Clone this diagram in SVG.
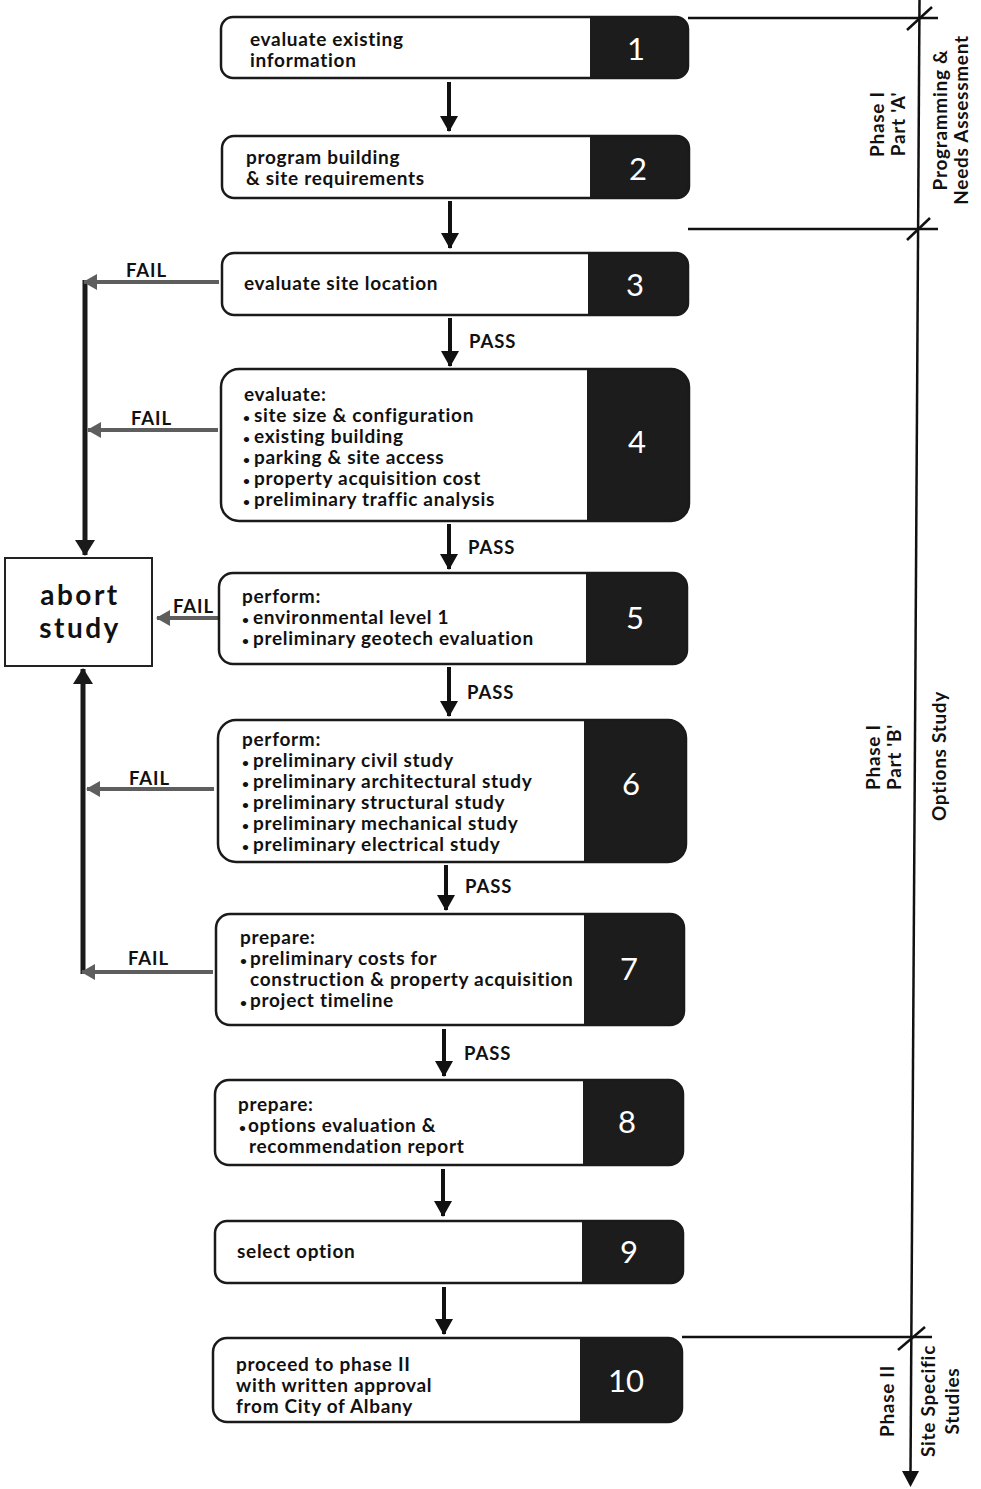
<svg xmlns="http://www.w3.org/2000/svg" width="981" height="1489" viewBox="0 0 981 1489">
<style>
  .dark { fill: #1c1c1c; }
  .face { fill: #ffffff; }
  .frame { fill: none; stroke: #1a1a1a; stroke-width: 2.5; }
  .t { font-family: Lato, "Liberation Sans", sans-serif; font-weight: 700; font-size: 19px; letter-spacing: 0.7px; fill: #111; }
  .b { font-size: 12px; letter-spacing: 0; }
  .num { font-family: Lato, "Liberation Sans", sans-serif; font-weight: 400; font-size: 31px; fill: #ffffff; text-anchor: middle; }
  .lbl { font-family: Lato, "Liberation Sans", sans-serif; font-weight: 700; font-size: 18.5px; letter-spacing: 0.9px; fill: #111; }
  .side { font-family: Lato, "Liberation Sans", sans-serif; font-weight: 700; font-size: 19px; letter-spacing: 0.7px; fill: #111; text-anchor: middle; }
  .down { stroke: #111; stroke-width: 4; fill: none; marker-end: url(#hd); }
  .fail { stroke: #5e5e5e; stroke-width: 4; fill: none; marker-end: url(#hg); }
  .trunk { stroke: #1a1a1a; stroke-width: 5; fill: none; }
  .rule { stroke: #111; stroke-width: 2.5; fill: none; }
  .abort { fill: #fff; stroke: #222; stroke-width: 2; }
  .abt { font-family: Lato, "Liberation Sans", sans-serif; font-weight: 700; font-size: 28px; letter-spacing: 2.5px; fill: #111; text-anchor: middle; }
</style>
<defs>
  <marker id="hd" viewBox="0 0 16 18" markerWidth="16" markerHeight="18" refX="15" refY="9" orient="auto" markerUnits="userSpaceOnUse">
    <path d="M0,0 L16,9 L0,18 Z" fill="#111"/>
  </marker>
  <marker id="hg" viewBox="0 0 14 16" markerWidth="14" markerHeight="16" refX="13" refY="8" orient="auto" markerUnits="userSpaceOnUse">
    <path d="M0,0 L14,8 L0,16 Z" fill="#5e5e5e"/>
  </marker>
  <marker id="hb" viewBox="0 0 16 20" markerWidth="16" markerHeight="20" refX="15" refY="10" orient="auto" markerUnits="userSpaceOnUse">
    <path d="M0,0 L16,10 L0,20 Z" fill="#1a1a1a"/>
  </marker>
</defs>

<rect width="981" height="1489" fill="#ffffff"/>

<!-- phase annotations -->
<g id="phases">
  <line class="rule" x1="919.5" y1="0" x2="910.5" y2="1474"/>
  <path d="M902,1471 L919,1471 L910.5,1487 Z" fill="#111"/>
  <line class="rule" x1="688" y1="18" x2="938" y2="18"/>
  <line class="rule" x1="688" y1="229" x2="938" y2="229"/>
  <line class="rule" x1="682" y1="1337" x2="932" y2="1337"/>
  <line class="rule" x1="907" y1="30" x2="932" y2="7"/>
  <line class="rule" x1="907" y1="240" x2="930" y2="218"/>
  <line class="rule" x1="898" y1="1350" x2="925" y2="1327"/>
  <text class="side" transform="translate(884,124) rotate(-90)">Phase I</text>
  <text class="side" transform="translate(905,124) rotate(-90)">Part 'A'</text>
  <text class="side" transform="translate(947,120) rotate(-90)">Programming &amp;</text>
  <text class="side" transform="translate(968,120) rotate(-90)">Needs Assessment</text>
  <text class="side" transform="translate(880,757) rotate(-90)">Phase I</text>
  <text class="side" transform="translate(901,757) rotate(-90)">Part 'B'</text>
  <text class="side" transform="translate(946,756) rotate(-90)">Options Study</text>
  <text class="side" transform="translate(894,1401) rotate(-90)">Phase II</text>
  <text class="side" transform="translate(935,1401) rotate(-90)">Site Specific</text>
  <text class="side" transform="translate(959,1401) rotate(-90)">Studies</text>
</g>

<g id="connectors">
  <line class="down" x1="449" y1="82" x2="449" y2="131"/>
  <line class="down" x1="450" y1="201" x2="450" y2="248"/>
  <line class="down" x1="450" y1="318" x2="450" y2="366"/>
  <line class="down" x1="449" y1="524" x2="449" y2="569"/>
  <line class="down" x1="449" y1="667" x2="449" y2="716"/>
  <line class="down" x1="446" y1="865" x2="446" y2="910"/>
  <line class="down" x1="444" y1="1029" x2="444" y2="1076"/>
  <line class="down" x1="443" y1="1169" x2="443" y2="1216"/>
  <line class="down" x1="444" y1="1287" x2="444" y2="1334"/>
  <text class="lbl" x="469" y="348">PASS</text>
  <text class="lbl" x="468" y="554">PASS</text>
  <text class="lbl" x="467" y="699">PASS</text>
  <text class="lbl" x="465" y="893">PASS</text>
  <text class="lbl" x="464" y="1060">PASS</text>

  <line class="trunk" x1="85" y1="280" x2="85" y2="555" marker-end="url(#hb)"/>
  <line class="trunk" x1="83" y1="974" x2="83" y2="669" marker-end="url(#hb)"/>
  <line class="fail" x1="219" y1="282" x2="84" y2="282"/>
  <line class="fail" x1="218" y1="430" x2="88" y2="430"/>
  <line class="fail" x1="218" y1="618" x2="157" y2="618"/>
  <line class="fail" x1="214" y1="789" x2="87" y2="789"/>
  <line class="fail" x1="213" y1="972" x2="82" y2="972"/>
  <text class="lbl" x="126" y="277">FAIL</text>
  <text class="lbl" x="131" y="425">FAIL</text>
  <text class="lbl" x="173" y="613">FAIL</text>
  <text class="lbl" x="129" y="785">FAIL</text>
  <text class="lbl" x="128" y="965">FAIL</text>
</g>

<g id="abort">
  <rect class="abort" x="5" y="558" width="147" height="108"/>
  <text class="abt" x="80" y="605">abort</text>
  <text class="abt" x="80" y="638">study</text>
</g>

<g id="node-1">
  <rect class="dark" x="221" y="17" width="467" height="61" rx="12"/>
  <path class="face" d="M590,17 H233 A12,12 0 0 0 221,29 V66 A12,12 0 0 0 233,78 H590 Z"/>
  <rect class="frame" x="221" y="17" width="467" height="61" rx="12"/>
  <text class="t" x="250" y="45.5">evaluate existing</text>
  <text class="t" x="250" y="66.5">information</text>
  <text class="num" x="636" y="60">1</text>
</g>

<g id="node-2">
  <rect class="dark" x="222" y="136" width="467" height="62" rx="12"/>
  <path class="face" d="M590,136 H234 A12,12 0 0 0 222,148 V186 A12,12 0 0 0 234,198 H590 Z"/>
  <rect class="frame" x="222" y="136" width="467" height="62" rx="12"/>
  <text class="t" x="246" y="163.5">program building</text>
  <text class="t" x="246" y="184.5">&amp; site requirements</text>
  <text class="num" x="638" y="180">2</text>
</g>

<g id="node-3">
  <rect class="dark" x="222" y="253" width="466" height="62" rx="12"/>
  <path class="face" d="M588,253 H234 A12,12 0 0 0 222,265 V303 A12,12 0 0 0 234,315 H588 Z"/>
  <rect class="frame" x="222" y="253" width="466" height="62" rx="12"/>
  <text class="t" x="244" y="290">evaluate site location</text>
  <text class="num" x="635" y="296">3</text>
</g>

<g id="node-4">
  <rect class="dark" x="221" y="369" width="468" height="152" rx="18"/>
  <path class="face" d="M587,369 H239 A18,18 0 0 0 221,387 V503 A18,18 0 0 0 239,521 H587 Z"/>
  <rect class="frame" x="221" y="369" width="468" height="152" rx="18"/>
  <text class="t" x="244" y="401">evaluate:</text>
  <text class="t" y="422"><tspan class="b" x="243">•</tspan><tspan x="254">site size &amp; configuration</tspan></text>
  <text class="t" y="443"><tspan class="b" x="243">•</tspan><tspan x="254">existing building</tspan></text>
  <text class="t" y="464"><tspan class="b" x="243">•</tspan><tspan x="254">parking &amp; site access</tspan></text>
  <text class="t" y="485"><tspan class="b" x="243">•</tspan><tspan x="254">property acquisition cost</tspan></text>
  <text class="t" y="506"><tspan class="b" x="243">•</tspan><tspan x="254">preliminary traffic analysis</tspan></text>
  <text class="num" x="637" y="453">4</text>
</g>

<g id="node-5">
  <rect class="dark" x="219" y="573" width="468" height="91" rx="14"/>
  <path class="face" d="M586,573 H233 A14,14 0 0 0 219,587 V650 A14,14 0 0 0 233,664 H586 Z"/>
  <rect class="frame" x="219" y="573" width="468" height="91" rx="14"/>
  <text class="t" x="242" y="603">perform:</text>
  <text class="t" y="624"><tspan class="b" x="242">•</tspan><tspan x="253">environmental level 1</tspan></text>
  <text class="t" y="645"><tspan class="b" x="242">•</tspan><tspan x="253">preliminary geotech evaluation</tspan></text>
  <text class="num" x="635" y="629">5</text>
</g>

<g id="node-6">
  <rect class="dark" x="218" y="720" width="468" height="142" rx="18"/>
  <path class="face" d="M584,720 H236 A18,18 0 0 0 218,738 V844 A18,18 0 0 0 236,862 H584 Z"/>
  <rect class="frame" x="218" y="720" width="468" height="142" rx="18"/>
  <text class="t" x="242" y="746">perform:</text>
  <text class="t" y="767"><tspan class="b" x="242">•</tspan><tspan x="253">preliminary civil study</tspan></text>
  <text class="t" y="788"><tspan class="b" x="242">•</tspan><tspan x="253">preliminary architectural study</tspan></text>
  <text class="t" y="809"><tspan class="b" x="242">•</tspan><tspan x="253">preliminary structural study</tspan></text>
  <text class="t" y="830"><tspan class="b" x="242">•</tspan><tspan x="253">preliminary mechanical study</tspan></text>
  <text class="t" y="851"><tspan class="b" x="242">•</tspan><tspan x="253">preliminary electrical study</tspan></text>
  <text class="num" x="631" y="795">6</text>
</g>

<g id="node-7">
  <rect class="dark" x="216" y="914" width="468" height="111" rx="14"/>
  <path class="face" d="M584,914 H230 A14,14 0 0 0 216,928 V1011 A14,14 0 0 0 230,1025 H584 Z"/>
  <rect class="frame" x="216" y="914" width="468" height="111" rx="14"/>
  <text class="t" x="240" y="944">prepare:</text>
  <text class="t" y="965"><tspan class="b" x="240">•</tspan><tspan x="250">preliminary costs for</tspan></text>
  <text class="t" x="250" y="986">construction &amp; property acquisition</text>
  <text class="t" y="1007"><tspan class="b" x="240">•</tspan><tspan x="250">project timeline</tspan></text>
  <text class="num" x="629" y="980">7</text>
</g>

<g id="node-8">
  <rect class="dark" x="215" y="1080" width="468" height="85" rx="14"/>
  <path class="face" d="M583,1080 H229 A14,14 0 0 0 215,1094 V1151 A14,14 0 0 0 229,1165 H583 Z"/>
  <rect class="frame" x="215" y="1080" width="468" height="85" rx="14"/>
  <text class="t" x="238" y="1111">prepare:</text>
  <text class="t" y="1132"><tspan class="b" x="239">•</tspan><tspan x="248">options evaluation &amp;</tspan></text>
  <text class="t" x="249" y="1153">recommendation report</text>
  <text class="num" x="627" y="1133">8</text>
</g>

<g id="node-9">
  <rect class="dark" x="215" y="1221" width="468" height="62" rx="12"/>
  <path class="face" d="M582,1221 H227 A12,12 0 0 0 215,1233 V1271 A12,12 0 0 0 227,1283 H582 Z"/>
  <rect class="frame" x="215" y="1221" width="468" height="62" rx="12"/>
  <text class="t" x="237" y="1258">select option</text>
  <text class="num" x="629" y="1263">9</text>
</g>

<g id="node-10">
  <rect class="dark" x="213" y="1338" width="469" height="84" rx="14"/>
  <path class="face" d="M580,1338 H227 A14,14 0 0 0 213,1352 V1408 A14,14 0 0 0 227,1422 H580 Z"/>
  <rect class="frame" x="213" y="1338" width="469" height="84" rx="14"/>
  <text class="t" x="236" y="1371">proceed to phase II</text>
  <text class="t" x="236" y="1392">with written approval</text>
  <text class="t" x="236" y="1413">from City of Albany</text>
  <text class="num" x="626" y="1392">10</text>
</g>
</svg>
